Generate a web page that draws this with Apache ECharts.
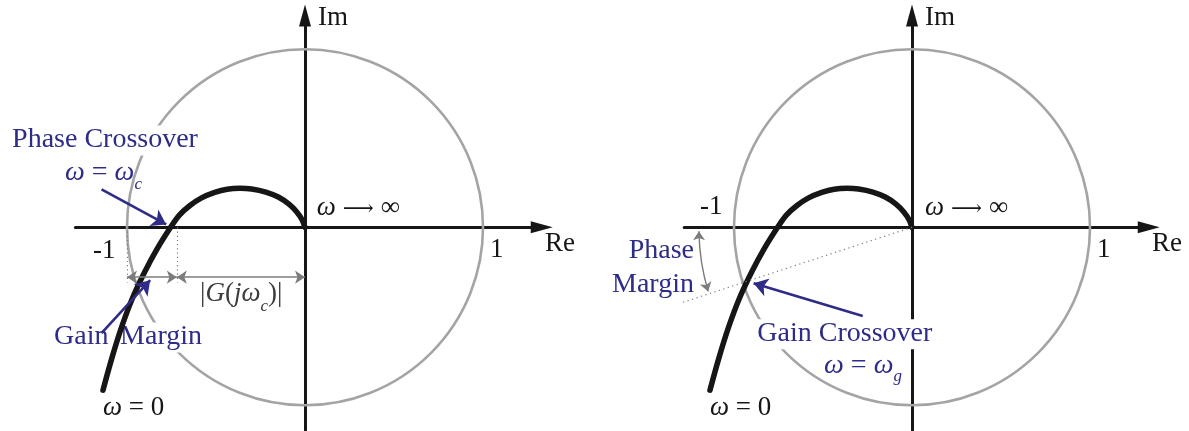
<!DOCTYPE html>
<html>
<head>
<meta charset="utf-8">
<script src="https://cdn.jsdelivr.net/npm/echarts@6/dist/echarts.min.js"></script>
<style>
html, body { margin: 0; padding: 0; background: #fff; }
#chart { width: 1189px; height: 431px; }
</style>
</head>
<body>
<div id="chart"></div>
<script>
// Open-loop frequency response G(jω) traced from ω = 0 to ω → ∞ (real part, imaginary part)
const nyquistRe = [-1.135, -1.085, -1.03, -0.97, -0.90, -0.83, -0.755, -0.707, -0.648, -0.581, -0.507, -0.437,
                   -0.365, -0.30, -0.22, -0.15, -0.09, -0.045, -0.015, 0];
const nyquistIm = [-0.915, -0.735, -0.56, -0.40, -0.25, -0.12, 0.0, 0.067, 0.121, 0.165, 0.196, 0.214,
                   0.219, 0.215, 0.198, 0.17, 0.13, 0.085, 0.04, 0];

// Unit circle: centre (Re, Im) and radius
const unitCircle = [[0, 0, 1]];

// Critical point and the two crossovers
const criticalRe = -1;
const phaseCrossoverRe = -0.72;          // locus on the negative real axis (ω = ω_c)
const gainCrossover = [-0.92, -0.306];   // locus on the unit circle (ω = ω_g)
const phaseMarginRayEnd = [-1.39, -0.455];

// Axis names and tick labels
const axisNames = ['Re', 'Im'];
const tickLabels = ['-1', '1'];

const SERIF = '"Liberation Serif", "Times New Roman", serif';
const BLUE = '#2e2c86';
const INK = '#161616';
const GREY = '#7c7c7c';

function richFor(color, size) {
  const base = { fontFamily: SERIF, fontSize: size, fill: color, lineHeight: 30, verticalAlign: 'top' };
  return {
    n: Object.assign({}, base),
    i: Object.assign({}, base, { fontStyle: 'italic' }),
    a: Object.assign({}, base, { fontFamily: '"DejaVu Serif", serif', fontSize: size * 0.8, verticalAlign: 'middle', padding: [0, 7, 0, 7] }),
    s: { fontFamily: SERIF, fontSize: 17, fill: color, fontStyle: 'italic', verticalAlign: 'bottom', lineHeight: 34 }
  };
}
const RICH = { ink: richFor(INK, 27), blue: richFor(BLUE, 28), grey: richFor('#3c3c3c', 27) };

const curve = nyquistRe.map((re, k) => [re, nyquistIm[k]]);

// grid geometry: 178 px per unit on both axes
const PX = 178;
const panels = [
  { ox: 305, xMin: -1.29, xMax: 1.33 },
  { ox: 912, xMin: -1.28, xMax: 1.33 }
];
const yMin = -1.14, yMax = 1.19, oy = 227.3;

const grids = panels.map(p => ({
  left: p.ox + p.xMin * PX,
  top: oy - yMax * PX,
  width: (p.xMax - p.xMin) * PX,
  height: (yMax - yMin) * PX,
  containLabel: false
}));

const axisLine = {
  show: true,
  onZero: true,
  symbol: ['none', 'triangle'],
  symbolSize: [12, 22],
  lineStyle: { color: INK, width: 3 }
};
const xAxes = panels.map((p, i) => ({
  type: 'value', gridIndex: i, min: p.xMin, max: p.xMax,
  axisLine: axisLine, axisTick: { show: false }, axisLabel: { show: false }, splitLine: { show: false }
}));
const yAxes = panels.map((p, i) => ({
  type: 'value', gridIndex: i, min: yMin, max: yMax,
  axisLine: axisLine, axisTick: { show: false }, axisLabel: { show: false }, splitLine: { show: false }
}));

function circleSeries(i) {
  return {
    type: 'custom', xAxisIndex: i, yAxisIndex: i, z: 1, silent: true,
    data: unitCircle,
    renderItem: function (params, api) {
      const c = api.coord([api.value(0), api.value(1)]);
      const r = api.size([api.value(2), 0])[0];
      return {
        type: 'circle',
        shape: { cx: c[0], cy: c[1], r: r },
        style: { fill: 'none', stroke: '#a4a4a4', lineWidth: 2.6 }
      };
    }
  };
}

function curveSeries(i) {
  return {
    type: 'line', xAxisIndex: i, yAxisIndex: i, z: 5, silent: true,
    data: curve, smooth: 0.3, symbol: 'none',
    lineStyle: { color: INK, width: 5.5, cap: 'round', join: 'round' }
  };
}

function textSeries(i, items) {
  return {
    type: 'custom', xAxisIndex: i, yAxisIndex: i, z: 4, silent: true,
    data: items.map((it, k) => [it.at[0], it.at[1], k]),
    renderItem: function (params, api) {
      const it = items[params.dataIndex];
      const p = api.coord([api.value(0), api.value(1)]);
      return {
        type: 'text', x: p[0], y: p[1],
        style: {
          text: it.text,
          rich: RICH[it.color || 'ink'],
          align: it.align || 'left',
          verticalAlign: 'top',
          backgroundColor: it.bg ? '#fff' : null,
          padding: it.bg ? [0, 2] : 0
        }
      };
    }
  };
}

function linesSeries(i, coordsList, style, symbol, size, curveness) {
  return {
    type: 'lines', coordinateSystem: 'cartesian2d', xAxisIndex: i, yAxisIndex: i,
    z: 6, silent: true, polyline: false,
    symbol: symbol, symbolSize: size,
    lineStyle: Object.assign({ curveness: curveness || 0, opacity: 1 }, style),
    data: coordsList.map(c => ({ coords: c }))
  };
}

// text anchors: top-left (or top-right) corner of each label, in axis units
const leftTexts = [
  { text: '{n|' + axisNames[1] + '}', at: [0.073, 1.25] },
  { text: '{n|' + axisNames[0] + '}', at: [1.348, -0.017] },
  { text: '{n|' + tickLabels[1] + '}', at: [1.039, -0.05] },
  { text: '{n|' + tickLabels[0] + '}', at: [-1.191, -0.057] },
  { text: '{i|ω}{a|⟶}{n|∞}', at: [0.066, 0.185] },
  { text: '{i|ω}{n| = 0}', at: [-1.135, -0.94] },
  { text: '{n|Phase Crossover}', at: [-1.657, 0.572], color: 'blue', bg: true },
  { text: '{i|ω}{n| = }{i|ω}{s|c}', at: [-1.348, 0.385], color: 'blue' },
  { text: '{n|Gain}', at: [-1.421, -0.535], color: 'blue', bg: true },
  { text: '{n|Margin}', at: [-1.05, -0.535], color: 'blue', bg: true },
  { text: '{n|\u2009|}{i|G}{n|(}{i|jω}{s|c}{n|)|}', at: [-0.62, -0.30], color: 'grey' }
];

const rightTexts = [
  { text: '{n|' + axisNames[1] + '}', at: [0.073, 1.25] },
  { text: '{n|' + axisNames[0] + '}', at: [1.348, -0.017] },
  { text: '{n|' + tickLabels[1] + '}', at: [1.039, -0.05] },
  { text: '{n|' + tickLabels[0] + '}', at: [-1.191, 0.19] },
  { text: '{i|ω}{a|⟶}{n|∞}', at: [0.073, 0.185] },
  { text: '{i|ω}{n| = 0}', at: [-1.135, -0.94] },
  { text: '{n|Phase}', at: [-1.225, -0.05], color: 'blue', align: 'right' },
  { text: '{n|Margin}', at: [-1.225, -0.242], color: 'blue', align: 'right' },
  { text: '{n|Gain Crossover}', at: [-0.88, -0.517], color: 'blue', bg: true },
  { text: '{i|ω}{n| = }{i|ω}{s|g}', at: [-0.494, -0.697], color: 'blue' }
];

const gmLevel = -0.28;
const series = [
  circleSeries(0), circleSeries(1),
  curveSeries(0), curveSeries(1),
  textSeries(0, leftTexts), textSeries(1, rightTexts),

  // left: projections of -1 and the phase crossover onto the dimension line
  linesSeries(0, [[[criticalRe, 0], [criticalRe, -0.31]], [[phaseCrossoverRe, 0], [phaseCrossoverRe, -0.31]]],
    { color: GREY, width: 1.2, type: [1.2, 3] }, ['none', 'none'], 0),
  // left: gain-margin and |G(jω_c)| dimension arrows
  linesSeries(0, [[[criticalRe, gmLevel], [phaseCrossoverRe, gmLevel]], [[phaseCrossoverRe, gmLevel], [0, gmLevel]]],
    { color: GREY, width: 1.6 }, ['arrow', 'arrow'], 10),
  // left: callout arrows
  linesSeries(0, [[[-1.143, 0.213], [-0.78, 0.016]], [[-1.143, -0.594], [-0.87, -0.297]]],
    { color: BLUE, width: 2.6 }, ['none', 'arrow'], 14),

  // right: ray from the origin through the gain crossover
  linesSeries(1, [[[0, 0], phaseMarginRayEnd]], { color: GREY, width: 1.2, type: [1.2, 3.5] }, ['none', 'none'], 0),
  // right: phase-margin arc
  linesSeries(1, [[[-1.197, -0.022], [-1.145, -0.36]]], { color: GREY, width: 1.4 }, ['arrow', 'arrow'], 9, -0.07),
  // right: gain crossover callout
  linesSeries(1, [[[-0.277, -0.498], [-0.89, -0.315]]], { color: BLUE, width: 2.6 }, ['none', 'arrow'], 14)
];

const chart = echarts.init(document.getElementById('chart'), null, { renderer: 'canvas' });
chart.setOption({
  animation: false,
  backgroundColor: '#fff',
  grid: grids,
  xAxis: xAxes,
  yAxis: yAxes,
  series: series
});
</script>
</body>
</html>
